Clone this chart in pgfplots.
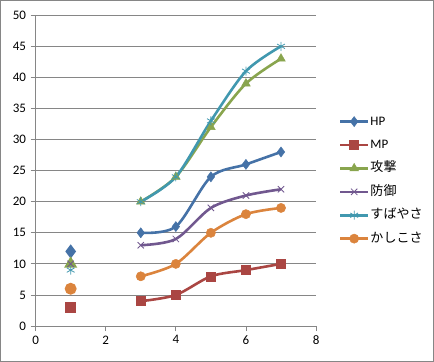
\documentclass[border=0pt]{standalone}
\usepackage{pgfplots}
\pgfplotsset{compat=1.18}
\usepackage{fontspec}
\setmainfont{Carlito}
\newfontfamily\cjk{Noto Sans CJK JP}
\definecolor{cHP}{HTML}{4572A7}
\definecolor{cMP}{HTML}{AA4643}
\definecolor{cAT}{HTML}{89A54E}
\definecolor{cDF}{HTML}{71588F}
\definecolor{cSP}{HTML}{4198AF}
\definecolor{cIN}{HTML}{DB843D}
\definecolor{axgray}{HTML}{868686}
\begin{document}
\begin{tikzpicture}[x=1pt,y=1pt]
\draw[axgray, line width=0.8pt] (0.5,0.5) rectangle (433.5,361.5);
\begin{axis}[
  at={(35.7pt,36pt)}, anchor=south west,
  scale only axis, width=280.3pt, height=310.7pt,
  xmin=0, xmax=8, ymin=0, ymax=50,
  xtick={0,2,4,6,8}, ytick={0,5,...,50},
  axis lines=left, axis line style={-, axgray, line width=0.8pt},
  tick align=outside, major tick length=5pt,
  tick style={axgray, line width=0.8pt},
  ymajorgrids, grid style={axgray, line width=0.8pt},
  tick label style={font=\fontsize{13}{15}\selectfont, black},
  /pgf/number format/assume math mode=true,
  yticklabel style={xshift=-1pt},
  xticklabel style={yshift=-1pt},
  clip=false,
  every axis plot/.append style={line width=2.6pt, smooth, tension=0.5},
  legend style={draw=none, fill=none, at={(1.07,0.689)}, anchor=north west,
    font=\fontsize{13}{15}\selectfont, row sep=8.4pt,
    nodes={inner sep=1pt, text height=10pt, text depth=3pt}},
  legend cell align=left,
  legend image code/.code={\draw[mark repeat=2,mark phase=2] plot coordinates {(0pt,0pt) (14pt,0pt) (28pt,0pt)};},
]
% isolated points at x=1
\addplot[only marks, forget plot, cHP, mark=diamond*, mark size=5pt] coordinates {(1,12)};
\addplot[only marks, forget plot, cMP, mark=square*, mark size=4.5pt] coordinates {(1,3)};
\addplot[only marks, forget plot, cAT, mark=triangle*, mark size=5pt] coordinates {(1,10)};
\addplot[only marks, forget plot, cDF, mark=x, mark size=4.5pt, mark options={line width=0.8pt}] coordinates {(1,10)};
\addplot[only marks, forget plot, cSP, mark=asterisk, mark size=4.5pt, mark options={line width=0.8pt}] coordinates {(1,9)};
\addplot[only marks, forget plot, cIN, mark=*, mark size=4.6pt] coordinates {(1,6)};
% lines
\addplot[cHP, mark=diamond*, mark size=5pt, mark options={line width=0.5pt}] coordinates {(3,15) (4,16) (5,24) (6,26) (7,28)};
\addlegendentry{HP}
\addplot[cMP, mark=square*, mark size=4.5pt, mark options={line width=0.5pt}] coordinates {(3,4) (4,5) (5,8) (6,9) (7,10)};
\addlegendentry{MP}
\addplot[cAT, mark=triangle*, mark size=5pt, mark options={line width=0.5pt}] coordinates {(3,20) (4,24) (5,32) (6,39) (7,43)};
\addlegendentry{\cjk 攻撃}
\addplot[cDF, mark=x, mark size=4.5pt, mark options={line width=0.8pt}] coordinates {(3,13) (4,14) (5,19) (6,21) (7,22)};
\addlegendentry{\cjk 防御}
\addplot[cSP, mark=asterisk, mark size=4.5pt, mark options={line width=0.8pt}] coordinates {(3,20) (4,24) (5,33) (6,41) (7,45)};
\addlegendentry{\cjk すばやさ}
\addplot[cIN, mark=*, mark size=4.6pt, mark options={line width=0.5pt}] coordinates {(3,8) (4,10) (5,15) (6,18) (7,19)};
\addlegendentry{\cjk かしこさ}
\end{axis}
\end{tikzpicture}
\end{document}
